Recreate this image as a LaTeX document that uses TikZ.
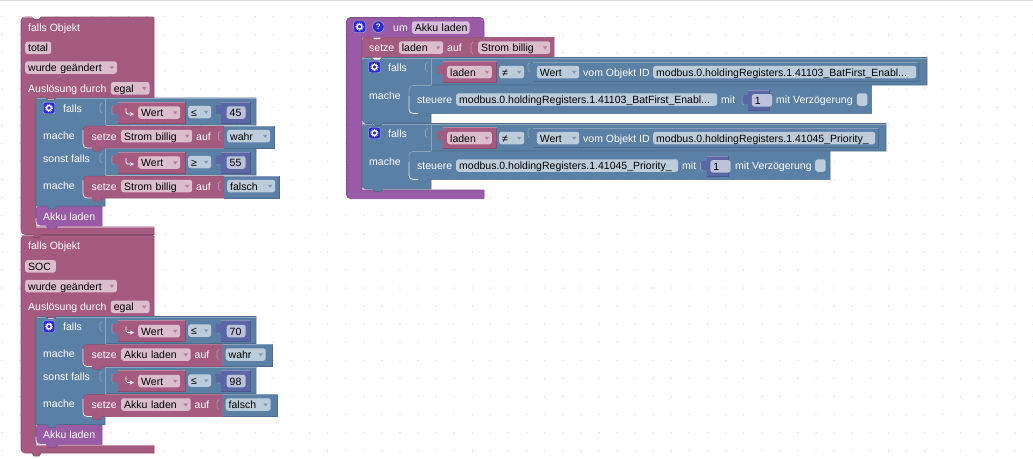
\documentclass[tikz,border=0pt]{standalone}
\usepackage{fontspec}
\setmainfont{Liberation Sans}
\usetikzlibrary{positioning}
\definecolor{blockpink}{HTML}{A55B80}
\definecolor{blockblue}{HTML}{5B80A5}
\definecolor{blockpurple}{HTML}{995BA5}
\definecolor{blocknum}{HTML}{5B67A5}
\definecolor{griddot}{HTML}{DCDCDC}
\definecolor{gearblue}{HTML}{2A2AD8}
\newcommand{\blk}[5]{
  \fill[#1] (#2,#3) rectangle (#4,#5);
  \draw[#1!75!white,line width=.7] (#2,#3) -- (#4,#3);
  \draw[#1!85!black,line width=.7] (#4,#3) -- (#4,#5) -- (#2,#5);
}
\newcommand{\plug}[3]{\fill[#1,rounded corners=1] (#2-5.5,#3+3) rectangle (#2+.5,#3+12);}
\newcommand{\sock}[2]{\draw[blockblue!70!white,line width=.7] (#1+2,#2) -- (#1,#2+2) -- (#1,#2+8) -- (#1+2,#2+10);}
\newcommand{\fld}[6]{
  \pgfmathsetlengthmacro\fw{#4-#3}
  \pgfmathsetlengthmacro\tw{#4-#3-6}
  \node[fieldbox,fill=#2!40!white,minimum width=\fw,text width=\tw] (#1) at (#3,#5) {\mbox{#6}};
}
\newcommand{\ddf}[6]{
  \fld{#1}{#2}{#3}{#4}{#5}{#6}
  \fill[#2!80!white] (#1.east) ++(-7.5,-1.2) -- ++(4.5,0) -- ++(-2.25,3) -- cycle;
}
\newcommand{\gear}[3]{
  \node[gearbox] (#1) at (#2,#3) {};
  \draw[white,line width=1.3] (#1.center) circle (2.4);
  \draw[white,line width=.8,dash pattern=on .9pt off .9pt] (#1.center) circle (3.6);
}
\tikzset{
  fieldbox/.style={anchor=west,rounded corners=2.5,inner xsep=3,inner ysep=0,minimum height=12.5,text height=8.5,text depth=.5,align=left},
  lbl/.style={anchor=west,white,inner sep=0,text height=8.5,text depth=.5},
  gearbox/.style={fill=gearblue,draw=blockblue!50!white,line width=.4,rounded corners=2,inner sep=0,minimum size=11.5},
  hilite/.style={white!85!blockblue,line width=.8,rounded corners=4},
}
\begin{document}
\begin{tikzpicture}[x=1pt,y=-1pt,font=\fontsize{10.5}{12}\selectfont]
\useasboundingbox (0,0) rectangle (1033,458);
\fill[white] (0,0) rectangle (1033,458);
\draw[griddot,line width=1] (0,.5) -- (1033,.5);
\foreach \i in {0,...,57} {
  \foreach \j in {0,...,25} {
    \fill[griddot] (2+\i*18.09,-1.4+\j*18.09) circle (.8);
  }
}

% the two object triggers on the left
\foreach \p/\yo/\objid/\idend/\tgt/\vd/\opb/\lo/\hi in {a/0/total/51/Strom billig/0/≥/45/55,b/218.5/SOC/55.7/Akku laden/-1.5/≤/70/98} {
\begin{scope}[yshift=-\yo pt]
\filldraw[fill=blockpink,draw=blockpink!85!black,line width=.6] [rounded corners=4] (21,30) -- (21,17) [sharp corners] -- (32,17) -- (34,19.5) -- (39,19.5) -- (41,17) [rounded corners=1] -- (154,17) [sharp corners] -- (154,99) -- (36,99) -- (36,227) -- (154,227) -- (154,234.5) -- (41,234.5) -- (39,237.5) -- (34,237.5) -- (32,234.5) [rounded corners=4] -- (21,234.5) -- cycle;
\draw[blockpink!65!white,line width=.7] (33,17.3) -- (22,17.3) (154,227.3) -- (36,227.3);
\node[lbl] (\p-title) at (28,27) {falls Objekt};
\fld{\p-id}{blockpink}{25}{\idend}{47.8}{\objid}
\ddf{\p-chg}{blockpink}{25}{116.7}{67.5}{wurde geändert}
\node[lbl] (\p-trig) at (28,88) {Auslösung durch};
\ddf{\p-egal}{blockpink}{110.7}{149.3}{88.3}{egal}

% target block below the condition
\filldraw[fill=blockpurple,draw=blockpurple!85!black,line width=.5] (36,206) -- (102,206) -- (102,226) -- (58,226) -- (55,229) -- (49,229) -- (46,226) [rounded corners=4] -- (36,226) -- cycle;
\draw[hilite] (36,218) -- (36,226) -- (46,226);
\node[lbl] (\p-akku) at (43,216) {Akku laden};

% the condition with its two branches
\filldraw[fill=blockblue,draw=blockblue!85!black,line width=.6] [rounded corners=4] (36,110) -- (36,98) [sharp corners] -- (46,98) -- (48,100.5) -- (54,100.5) -- (56,98) -- (256,98) -- (256,125) -- (105,125) -- (105,148) -- (256,148) -- (256,175) -- (105,175) -- (105,206) -- (57,206) -- (55,209) -- (49,209) -- (47,206) -- (36,206) -- cycle;
\draw[blockblue!70!white,line width=.7] (36.5,98.4) -- (46,98.4) (56,98.4) -- (256,98.4) (105.5,98) -- (105.5,125) (105.5,148) -- (105.5,175) (105,148.4) -- (256,148.4);
\gear{\p-gear}{49}{108}
\node[lbl] (\p-falls) at (63,108) {falls};
\node[lbl] (\p-mache1) at (43,135) {mache};
\node[lbl] (\p-sonst) at (43,158) {sonst falls};
\node[lbl] (\p-mache2) at (43,185) {mache};
\sock{100}{103}
\sock{100}{153}

% the two comparisons
\foreach \q/\yr/\op/\num in {c/0/≤/\lo,d/50/\opb/\hi} {
  \sock{112}{\yr+105}
  \plug{blockpink}{118}{\yr+102}
  \blk{blockpink}{118}{\yr+102}{185}{\yr+123}
  \draw[white,line width=.9,rounded corners=1.5,->,>=stealth] (126,\yr+108) |- (134,\yr+114);
  \ddf{\p-\q-wert}{blockpink}{138}{180}{\yr+112.5}{Wert}
  \ddf{\p-\q-op}{blockblue}{188}{211}{\yr+112}{\op}
  \sock{216.5}{\yr+105}
  \plug{blocknum}{221}{\yr+102}
  \blk{blocknum}{221}{\yr+102}{250}{\yr+123}
  \fld{\p-\q-num}{blocknum}{226.5}{245.5}{\yr+112.5}{\num}
}

% the two assignments
\foreach \q/\yr/\val/\vend/\bend in {e/0/wahr/270/274,f/50/falsch/275/279} {
  \filldraw[fill=blockpink,draw=blockpink!85!black,line width=.5] (224+\vd,\yr+126) -- (88,\yr+126) [rounded corners=4] -- (83,\yr+126) -- (83,\yr+148) [sharp corners] -- (92,\yr+148) -- (94,\yr+151) -- (100,\yr+151) -- (102,\yr+148) -- (224+\vd,\yr+148) -- cycle;
  \draw[hilite] (83,\yr+130) -- (83,\yr+148) -- (92,\yr+148);
  \node[lbl] (\p-\q-setze) at (91.5,\yr+136) {setze};
  \ddf{\p-\q-tgt}{blockpink}{121}{192+\vd}{\yr+136}{\tgt}
  \node[lbl] (\p-\q-auf) at (196+\vd,\yr+136) {auf};
  \blk{blockblue}{224+\vd}{\yr+126}{\bend+\vd}{\yr+148}
  \sock{218.5+\vd}{\yr+131}
  \ddf{\p-\q-val}{blockblue}{227+\vd}{\vend+\vd}{\yr+136}{\val}
}
\end{scope}
}

% the function on the right
\filldraw[fill=blockpurple,draw=blockpurple!85!black,line width=.6] [rounded corners=4] (346.5,30) -- (346.5,17.5) -- (484,17.5) [sharp corners] -- (484,37.3) -- (362,37.3) -- (362,190) -- (484,190) -- (484,198.7) [rounded corners=4] -- (346.5,198.7) -- cycle;
\gear{fgear}{359.5}{26.7}
\node[fill=gearblue,draw=blockblue!50!white,line width=.4,circle,inner sep=0,minimum size=11.5,text=white,font=\fontsize{8}{8}\bfseries\selectfont] (fhelp) at (378.3,26.7) {?};
\node[lbl] (fum) at (393,27) {um};
\fld{fname}{blockpurple}{411.7}{469.3}{27.5}{Akku laden}

\filldraw[fill=blockpink,draw=blockpink!85!black,line width=.5] [rounded corners=4] (362,50) -- (362,37.3) [sharp corners] -- (372,37.3) -- (374,39.5) -- (380,39.5) -- (382,37.3) -- (554,37.3) -- (554,57.3) -- (362,57.3) -- cycle;
\node[lbl] (fsetze) at (369,47.5) {setze};
\ddf{fladen}{blockpink}{398.7}{443}{47.5}{laden}
\node[lbl] (fauf) at (447,47.5) {auf};
\draw[blockpink!65!white,line width=.7] (473,42) -- (471,44) -- (471,52) -- (473,54);
\ddf{fstrom}{blockpink}{478}{550}{47.5}{Strom billig}

\foreach \q/\yr/\rend/\iend/\idend/\regtxt/\regs/\send/\fend/\numx/\mitx/\cbx in {
  g/0/927/918/916/{modbus.0.holdingRegisters.1.41103\_BatFirst\_Enabl...}/{modbus.0.holdingRegisters.1.41103\_BatFirst\_Enabl...}/871.7/717/748/776/856.7,
  h/66/886/878/875/{modbus.0.holdingRegisters.1.41045\_Priority\_}/{modbus.0.holdingRegisters.1.41045\_Priority\_}/830/678/706.5/735/815} {
  \begin{scope}[yshift=-\yr pt]
  \filldraw[fill=blockblue,draw=blockblue!85!black,line width=.6] (362,57.5) -- (372,57.5) -- (374,60) -- (380,60) -- (382,57.5) -- (\rend,57.5) -- (\rend,85) -- (431,85) -- (431,123) -- (383,123) -- (381,125.5) -- (375,125.5) -- (373,123) [rounded corners=4] -- (362,123) -- cycle;
  \draw[blockblue!70!white,line width=.7] (362.5,57.9) -- (372,57.9) (382,57.9) -- (\rend,57.9) (431,57.5) -- (431,85);
  \gear{\q-gear}{374.5}{67}
  \node[lbl] (\q-falls) at (388,67) {falls};
  \node[lbl] (\q-mache) at (369,95) {mache};
  \sock{425.5}{62}
  \plug{blockpink}{443}{62}
  \blk{blockpink}{443}{61.7}{496.7}{82.3}
  \ddf{\q-laden}{blockpink}{447}{491.7}{72}{laden}
  \ddf{\q-op}{blockblue}{499}{524}{72}{≠}
  \sock{528}{62}
  \blk{blockblue}{533}{62.5}{\iend}{81}
  \ddf{\q-wert}{blockblue}{536.7}{579}{72}{Wert}
  \node[lbl] (\q-vom) at (583,72) {vom Objekt ID};
  \fld{\q-id}{blockblue}{653}{\idend}{72}{\regtxt}

  \filldraw[fill=blockblue,draw=blockblue!85!black,line width=.5] (\send,85) -- (414,85) [rounded corners=4] -- (409,85) -- (409,113.5) [sharp corners] -- (418,113.5) -- (420,116) -- (426,116) -- (428,113.5) -- (\send,113.5) -- cycle;
  \draw[hilite] (409,96) -- (409,113.5) -- (418,113.5);
  \draw[blockblue!70!white,line width=.7,rounded corners=4] (409,100) -- (409,85.4) -- (431,85.4);
  \node[lbl] (\q-steuere) at (417,99) {steuere};
  \fld{\q-reg}{blockblue}{456}{\fend}{99.5}{\regs}
  \node[lbl] (\q-mit) at (\fend+4,99) {mit};
  \sock{\numx-6}{95}
  \plug{blocknum}{\numx}{92}
  \blk{blocknum}{\numx}{90}{\numx+21.5}{110.7}
  \fld{\q-num}{blocknum}{\numx+3.7}{\numx+16.5}{100.3}{1}
  \node[lbl] (\q-verz) at (\mitx,99) {mit Verzögerung};
  \fld{\q-cb}{blockblue}{\cbx}{\cbx+10.5}{99.5}{}
  \end{scope}
}
\end{tikzpicture}
\end{document}
